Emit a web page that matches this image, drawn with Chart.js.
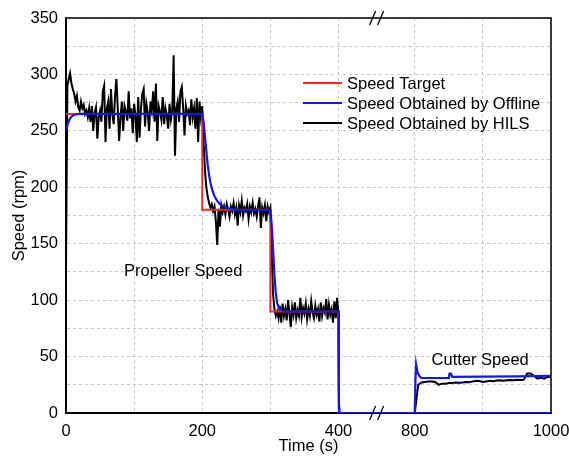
<!DOCTYPE html>
<html>
<head>
<meta charset="utf-8">
<script src="https://cdn.jsdelivr.net/npm/chart.js@4.4.1/dist/chart.umd.min.js"></script>
<style>
  html, body { margin: 0; padding: 0; background: #fff; }
</style>
</head>
<body>
<canvas id="speedChart" width="569" height="465"></canvas>
<script>
// ---- data (time in s, speed in rpm); null splits propeller and cutter parts ----
const xTickTimes = [0, 100, 200, 300, 400, 800, 900, 1000];
const xTickLabels = ['0', '', '200', '', '400', '800', '', '1000'];

const targetTime = [0, 200, 200, 300, 300, 400, 403, 1000];
const targetSpeed = [265, 265, 180, 180, 90, 90, 0, 0];

const offlineTime = [0, 2, 4, 6, 8, 10, 13, 16, 20, 25, 200, 202, 204, 206, 208, 210, 212, 215, 218, 222, 226, 232, 240, 250,
  300, 302, 304, 306, 308, 310, 313, 317, 322, 400, 401, 402, 403, 405, 1000, 1000,
  800, 801, 802, 804, 807, 810, 850, 851, 853, 855, 900, 950, 1000];
const offlineSpeed = [250, 255, 258.5, 261, 262.5, 263.5, 264.3, 264.7, 265, 265, 265, 258, 245, 232, 220, 211, 204, 197, 192, 188, 185, 183, 181, 180,
  180, 166, 145, 122, 106, 97, 93, 91, 90, 90, 60, 25, 5, 0, 0, null,
  0, 30, 43, 36, 32.5, 31, 31, 35, 35, 32, 32.2, 32.5, 33];

// HILS, 0-200 s every 2 s
const hilsA = [130, 290, 296, 301, 292, 287, 283, 276, 281, 271, 268, 276, 270, 273, 265, 268, 262, 270, 258, 272,
  250, 266, 271, 243, 262, 268, 258, 285, 290, 240, 270, 276, 252, 287, 265, 256, 281, 296, 270, 241,
  262, 276, 250, 272, 267, 259, 285, 261, 270, 248, 274, 263, 240, 280, 244, 270, 283, 287, 254, 274,
  266, 250, 276, 268, 285, 258, 292, 241, 272, 267, 260, 280, 256, 270, 264, 252, 274, 260, 268, 317,
  228, 270, 276, 258, 285, 289, 270, 246, 272, 265, 268, 255, 278, 262, 270, 252, 279, 240, 276, 262, 272];
// HILS, 202-300 s every 2 s
const hilsB = [240, 215, 200, 192, 186, 182, 185, 179, 183, 170, 149, 181, 165, 184, 178, 183, 176, 185, 180, 174,
  183, 179, 186, 176, 182, 166, 184, 178, 188, 175, 182, 179, 185, 172, 183, 178, 186, 177, 181, 174,
  183, 191, 164, 182, 177, 184, 170, 183, 178, 182];
// HILS, 302-404 s every 2 s
const hilsC = [140, 105, 92, 86, 90, 84, 95, 80, 97, 86, 92, 82, 100, 88, 76, 94, 87, 98, 84, 91,
  86, 102, 85, 93, 88, 97, 83, 92, 86, 99, 89, 84, 95, 87, 92, 81, 98, 86, 93, 89,
  101, 83, 96, 87, 92, 80, 99, 84, 102, 88, 4, 0];
// HILS cutter, 800-1000 s every 5 s
const hilsD = [0, 25, 27, 27.5, 28, 28, 27.5, 25, 26, 26, 26.5, 26.5, 27, 26.8, 27, 27.5, 27.3, 28, 28.5, 28.3,
  27.5, 28, 28.5, 28.2, 28.8, 29, 28.5, 29, 29.3, 29, 29.5, 29.2, 29.5, 35, 35, 33, 30.5, 31.5, 30.5, 32, 31.5];

const seriesLabels = ['Speed Target', 'Speed Obtained by Offline', 'Speed Obtained by HILS'];
const seriesColors = ['#ee2b2b', '#1515ee', '#000000'];

// ---- broken axis: 400-800 s squeezed into a short gap ----
const GAP = 112;
function toAxis(t) {
  if (t <= 400) return t;
  if (t >= 800) return t - 800 + 400 + GAP;
  return 400 + (t - 400) * GAP / 400;
}

function pairs(times, values) {
  return times.map((t, i) => ({ x: toAxis(t), y: values[i] }));
}
function stepped(t0, dt, values) {
  return values.map((v, i) => ({ x: toAxis(t0 + i * dt), y: v }));
}

const hilsPoints = [
  ...stepped(0, 2, hilsA),
  ...stepped(202, 2, hilsB),
  ...stepped(302, 2, hilsC),
  { x: toAxis(1000), y: 0 },
  { x: toAxis(1000), y: null },
  ...stepped(800, 5, hilsD)
];

const FONT = 'Liberation Sans, Arial, sans-serif';
Chart.defaults.font.family = FONT;
Chart.defaults.font.size = 16.5;
Chart.defaults.color = '#000';

const framePlugin = {
  id: 'framePlugin',
  afterDatasetsDraw(chart) {
    const { ctx, chartArea: a, scales: { x, y } } = chart;
    ctx.save();
    ctx.strokeStyle = '#000';
    ctx.lineWidth = 1.5;
    ctx.beginPath();
    ctx.moveTo(a.left, a.top);
    ctx.lineTo(a.right, a.top);
    ctx.lineTo(a.right, a.bottom);
    ctx.stroke();

    // break marks
    const bx = x.getPixelForValue(toAxis(600));
    ctx.lineWidth = 1.3;
    [a.top, a.bottom].forEach((by) => {
      [-4, 4].forEach((k) => {
        ctx.beginPath();
        ctx.moveTo(bx + k - 3, by + 7);
        ctx.lineTo(bx + k + 3, by - 7);
        ctx.stroke();
      });
    });

    // legend
    ctx.font = '16.5px ' + FONT;
    ctx.textBaseline = 'middle';
    ctx.textAlign = 'left';
    seriesLabels.forEach((label, i) => {
      const ly = a.top + 65 + i * 20;
      ctx.strokeStyle = seriesColors[i];
      ctx.lineWidth = 2;
      ctx.beginPath();
      ctx.moveTo(a.left + 237, ly);
      ctx.lineTo(a.left + 276, ly);
      ctx.stroke();
      ctx.fillStyle = '#000';
      ctx.fillText(label, a.left + 281, ly + 1);
    });

    // annotations
    ctx.textAlign = 'center';
    ctx.fillText('Propeller Speed', x.getPixelForValue(toAxis(172)), y.getPixelForValue(125));
    ctx.fillText('Cutter Speed', x.getPixelForValue(toAxis(896)), y.getPixelForValue(47));
    ctx.restore();
  }
};

new Chart(document.getElementById('speedChart'), {
  type: 'line',
  data: {
    datasets: [
      { label: seriesLabels[0], data: pairs(targetTime, targetSpeed), borderColor: seriesColors[0], borderWidth: 2, order: 1 },
      { label: seriesLabels[1], data: pairs(offlineTime, offlineSpeed), borderColor: seriesColors[1], borderWidth: 2.2, order: 0 },
      { label: seriesLabels[2], data: hilsPoints, borderColor: seriesColors[2], borderWidth: 2, order: 2 }
    ]
  },
  options: {
    responsive: false,
    animation: false,
    spanGaps: false,
    elements: { point: { radius: 0 }, line: { tension: 0, fill: false } },
    layout: { padding: { top: 18, right: 18, left: 0, bottom: 0 } },
    plugins: { legend: { display: false }, tooltip: { enabled: false } },
    scales: {
      x: {
        type: 'linear',
        min: 0,
        max: toAxis(1000),
        afterBuildTicks: (s) => { s.ticks = xTickTimes.map((t) => ({ value: toAxis(t) })); },
        afterFit: (s) => { s.height = 52; s.paddingLeft = 0; s.paddingRight = 0; },
        ticks: { autoSkip: false, maxRotation: 0, padding: 9, callback: (v, i) => xTickLabels[i] },
        grid: { color: '#c8c8c8', lineWidth: 1, drawTicks: false },
        border: { display: true, color: '#000', width: 2, dash: [3, 3] },
        title: { display: true, text: 'Time (s)', padding: { top: 2, bottom: 9 } }
      },
      y: {
        min: 0,
        max: 350,
        afterFit: (s) => { s.width = 66; s.paddingTop = 0; s.paddingBottom = 0; },
        ticks: { stepSize: 25, padding: 8, callback: (v) => (v % 50 === 0 ? v : '') },
        grid: { color: '#c8c8c8', lineWidth: 1, drawTicks: false },
        border: { display: true, color: '#000', width: 2, dash: [3, 3] },
        title: { display: true, text: 'Speed (rpm)', padding: { top: 10, bottom: 4 } }
      }
    }
  },
  plugins: [framePlugin]
});
</script>
</body>
</html>
